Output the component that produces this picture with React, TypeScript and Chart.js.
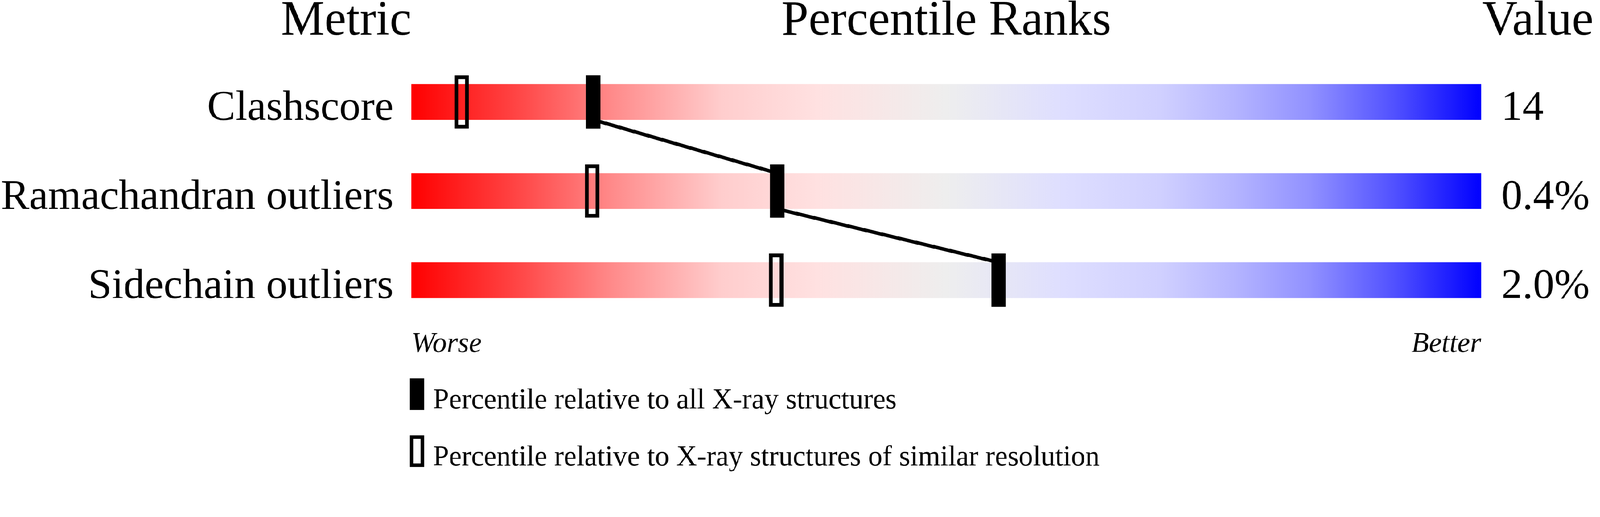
import { useEffect, useRef, useState } from "react";
import { Chart, registerables, Plugin } from "chart.js";

Chart.register(...registerables);

const metrics = ["Clashscore", "Ramachandran outliers", "Sidechain outliers"];
const metricValues = ["14", "0.4%", "2.0%"];
// percentile rank vs all X-ray structures (solid marker)
const percentileAll = [17, 34.2, 54.9];
// percentile rank vs structures of similar resolution (open marker)
const percentileSimilar = [4.7, 16.9, 34.1];
const legendLabels = [
  "Percentile relative to all X-ray structures",
  "Percentile relative to X-ray structures of similar resolution",
];
const headers = ["Metric", "Percentile Ranks", "Value"];
const axisEnds = ["Worse", "Better"];

const W = 4485;
const H = 1324;
const BAR_H = 100;
const MARK_H = 149;
const MARK_HALF = 0.667; // half of a 40px marker, in percentile units
const SERIF = '"Liberation Serif", "Times New Roman", serif';

const gradientStops: [number, string][] = [
  [0, "rgb(255,0,0)"],
  [0.1, "rgb(255,70,70)"],
  [0.19, "rgb(255,140,140)"],
  [0.29, "rgb(255,205,205)"],
  [0.38, "rgb(255,225,225)"],
  [0.5, "rgb(238,238,238)"],
  [0.61, "rgb(222,222,255)"],
  [0.7, "rgb(208,208,255)"],
  [0.77, "rgb(180,180,255)"],
  [0.84, "rgb(145,145,255)"],
  [0.92, "rgb(80,80,255)"],
  [1, "rgb(0,0,255)"],
];

const textPlugin: Plugin<"bar"> = {
  id: "sliderText",
  afterDraw(chart) {
    const { ctx } = chart;
    const x = chart.scales.x;
    const y = chart.scales.y;
    const left = x.getPixelForValue(0);
    const right = x.getPixelForValue(100);
    ctx.save();
    ctx.fillStyle = "#000";
    ctx.textBaseline = "alphabetic";

    // column headers
    const headY = y.getPixelForValue(-1) + 61;
    ctx.font = `137px ${SERIF}`;
    ctx.textAlign = "right";
    ctx.fillText(headers[0], left, headY);
    ctx.textAlign = "center";
    ctx.fillText(headers[1], (left + right) / 2, headY);
    ctx.textAlign = "left";
    ctx.fillText(headers[2], right + 3, headY);

    // row labels and values, baseline on the bar's lower edge
    ctx.font = `119px ${SERIF}`;
    metrics.forEach((m, i) => {
      const base = y.getPixelForValue(i) + BAR_H / 2;
      ctx.textAlign = "right";
      ctx.fillText(m, left - 50, base);
      ctx.textAlign = "left";
      ctx.fillText(metricValues[i], right + 56, base);
    });

    // worse / better
    const endY = y.getPixelForValue(metrics.length - 1) + BAR_H / 2 + 151;
    ctx.font = `italic 80px ${SERIF}`;
    ctx.textAlign = "left";
    ctx.fillText(axisEnds[0], left, endY);
    ctx.textAlign = "right";
    ctx.fillText(axisEnds[1], right, endY);

    // legend
    ctx.font = `80px ${SERIF}`;
    ctx.textAlign = "left";
    legendLabels.forEach((label, i) => {
      const top = endY + 74 + i * 160;
      const bx = left - 4;
      if (i === 0) {
        ctx.fillRect(bx, top, 40, 89);
      } else {
        ctx.lineWidth = 10;
        ctx.strokeStyle = "#000";
        ctx.strokeRect(bx + 5, top + 5, 30, 79);
      }
      ctx.fillText(label, left + 61, top + 84);
    });
    ctx.restore();
  },
};

export default function App() {
  const canvasRef = useRef<HTMLCanvasElement>(null);
  const chartRef = useRef<Chart | null>(null);
  const [scale] = useState(() => (typeof window !== "undefined" ? window.innerWidth / W : 1));

  useEffect(() => {
    if (!canvasRef.current) return;
    if (chartRef.current) chartRef.current.destroy();

    const linePoints: { x: number; y: number }[] = [];
    percentileAll.forEach((p, i) => {
      if (i > 0) linePoints.push({ x: p, y: i - 0.2 });
      if (i < percentileAll.length - 1) linePoints.push({ x: p, y: i + 0.2 });
    });

    chartRef.current = new Chart(canvasRef.current, {
      type: "bar",
      data: {
        datasets: [
          {
            label: "all",
            data: percentileAll.map((p, i) => ({ y: i, x: [p - MARK_HALF, p + MARK_HALF] })) as any,
            backgroundColor: "#000",
            borderWidth: 0,
            barThickness: MARK_H,
            grouped: false,
            order: 0,
          },
          {
            label: "similar",
            data: percentileSimilar.map((p, i) => ({ y: i, x: [p - MARK_HALF, p + MARK_HALF] })) as any,
            backgroundColor: "rgba(0,0,0,0)",
            borderColor: "#000",
            borderWidth: 10,
            borderSkipped: false,
            barThickness: MARK_H,
            grouped: false,
            order: 1,
          },
          {
            type: "line",
            label: "link",
            data: linePoints as any,
            borderColor: "#000",
            borderWidth: 10,
            pointRadius: 0,
            tension: 0,
            fill: false,
            order: 2,
          } as any,
          {
            label: "range",
            data: metrics.map((_, i) => ({ y: i, x: [0, 100] })) as any,
            backgroundColor: (c: any) => {
              const chart = c.chart;
              const xs = chart.scales?.x;
              if (!chart.chartArea || !xs) return "#eee";
              const g = chart.ctx.createLinearGradient(xs.getPixelForValue(0), 0, xs.getPixelForValue(100), 0);
              gradientStops.forEach(([o, col]) => g.addColorStop(o, col));
              return g;
            },
            borderWidth: 0,
            barThickness: BAR_H,
            grouped: false,
            order: 3,
          },
        ],
      },
      options: {
        indexAxis: "y",
        animation: false,
        responsive: false,
        devicePixelRatio: 1,
        layout: { padding: { left: 1153, right: W - 4152, top: 35.5, bottom: H - 1036 } },
        scales: {
          x: { type: "linear", min: 0, max: 100, display: false, offset: false },
          y: { type: "linear", min: -1, max: 3, reverse: true, display: false, offset: false },
        },
        plugins: {
          legend: { display: false },
          tooltip: { enabled: false },
        },
      },
      plugins: [textPlugin],
    });

    return () => {
      if (chartRef.current) {
        chartRef.current.destroy();
        chartRef.current = null;
      }
    };
  }, []);

  return (
    <div
      style={{
        position: "fixed",
        left: 0,
        top: 0,
        width: W,
        height: H,
        background: "#fff",
        transform: `scale(${scale})`,
        transformOrigin: "0 0",
      }}
    >
      <canvas ref={canvasRef} width={W} height={H} style={{ display: "block" }} />
    </div>
  );
}
